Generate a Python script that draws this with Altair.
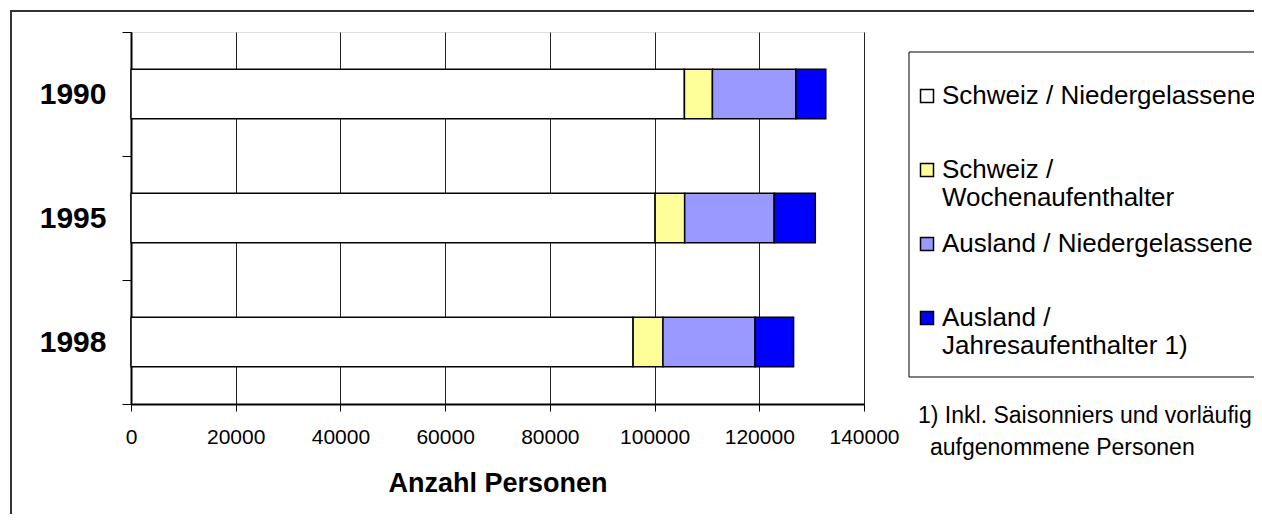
import json
import altair as alt
import pandas as pd

years = ["1990", "1995", "1998"]
categories = [
    "Schweiz / Niedergelassene",
    "Schweiz / Wochenaufenthalter",
    "Ausland / Niedergelassene",
    "Ausland / Jahresaufenthalter 1)",
]
legend_lines = [
    ["Schweiz / Niedergelassene", ""],
    ["Schweiz /", "Wochenaufenthalter"],
    ["Ausland / Niedergelassene", ""],
    ["Ausland /", "Jahresaufenthalter 1)"],
]
colors = ["#FFFFFF", "#FFFF99", "#9999FF", "#0000FF"]

ch_nied = [105700, 100100, 95900]
ch_woch = [5350, 5650, 5700]
aus_nied = [15950, 17100, 17600]
aus_jahr = [5700, 7850, 7350]

x_ticks = [0, 20000, 40000, 60000, 80000, 100000, 120000, 140000]
x_title = "Anzahl Personen"
footnote = ["1) Inkl. Saisonniers und vorläufig", "aufgenommene Personen"]

FONT = "Liberation Sans"

series = [ch_nied, ch_woch, aus_nied, aus_jahr]
rows = []
for ci, (cat, vals) in enumerate(zip(categories, series)):
    for y, v in zip(years, vals):
        rows.append({"year": y, "category": cat, "value": v, "idx": ci})
df = pd.DataFrame(rows)

label_expr = "''"
for cat, lines in zip(categories, legend_lines):
    label_expr = f"datum.label == {json.dumps(cat)} ? {json.dumps(lines)} : ({label_expr})"

bars = alt.Chart(df).mark_bar(stroke="black", strokeWidth=1.5, height={"band": 0.4}).encode(
    x=alt.X(
        "value:Q",
        stack="zero",
        scale=alt.Scale(domain=[0, 140000], nice=False),
        axis=alt.Axis(
            values=x_ticks, format="d", grid=True, gridColor="#222", gridWidth=1,
            tickSize=7, tickColor="black", domainColor="black", domainWidth=2,
            labelFontSize=21, labelFont=FONT, labelColor="black", labelPadding=15,
            labelFlush=False,
            title=x_title, titleFont=FONT, titleFontSize=27, titleFontWeight="bold",
            titleColor="black", titlePadding=23,
        ),
    ),
    y=alt.Y(
        "year:N",
        sort=years,
        scale=alt.Scale(paddingInner=0, paddingOuter=0),
        axis=alt.Axis(
            title=None, tickBand="extent", tickSize=9, tickColor="black",
            domainColor="black", domainWidth=2, labelFontSize=30, labelFont=FONT,
            labelFontWeight="bold", labelColor="black", labelPadding=16, grid=False,
        ),
    ),
    color=alt.Color(
        "category:N",
        scale=alt.Scale(domain=categories, range=colors),
        legend=alt.Legend(
            title=None, orient="none", legendX=773, legendY=41,
            strokeColor="transparent", fillColor="transparent", padding=10, rowPadding=20,
            symbolType="square", symbolSize=169,
            symbolStrokeColor="black", symbolStrokeWidth=1.5, symbolOpacity=1,
            labelFont=FONT, labelFontSize=26, labelColor="black", labelLimit=1000,
            labelOffset=2, labelExpr=label_expr,
        ),
    ),
    order=alt.Order("idx:Q"),
)

one = pd.DataFrame({"a": [0]})

border = alt.Chart(one).mark_rect(
    fillOpacity=0, stroke="#333", strokeWidth=2
).encode(
    x=alt.value(-120), x2=alt.value(1300), y=alt.value(-21), y2=alt.value(700)
)

legend_box = alt.Chart(one).mark_rect(
    fill="white", stroke="black", strokeWidth=1
).encode(
    x=alt.value(778), x2=alt.value(1300), y=alt.value(20), y2=alt.value(345)
)

fn1 = alt.Chart(pd.DataFrame({"t": [footnote[0]]})).mark_text(
    align="left", baseline="middle", fontSize=23, font=FONT, color="black"
).encode(x=alt.value(787), y=alt.value(384), text="t:N")

fn2 = alt.Chart(pd.DataFrame({"t": [footnote[1]]})).mark_text(
    align="left", baseline="middle", fontSize=23, font=FONT, color="black"
).encode(x=alt.value(799), y=alt.value(416), text="t:N")

chart = alt.layer(border, legend_box, bars, fn1, fn2).properties(
    width=733, height=372,
    autosize=alt.AutoSizeParams(type="none"),
    padding={"left": 123, "top": 24, "right": 390, "bottom": 110},
).configure_view(stroke="#555", strokeWidth=2).configure(font=FONT)

chart.save("out.html", embed_options={"renderer": "svg", "actions": False})
